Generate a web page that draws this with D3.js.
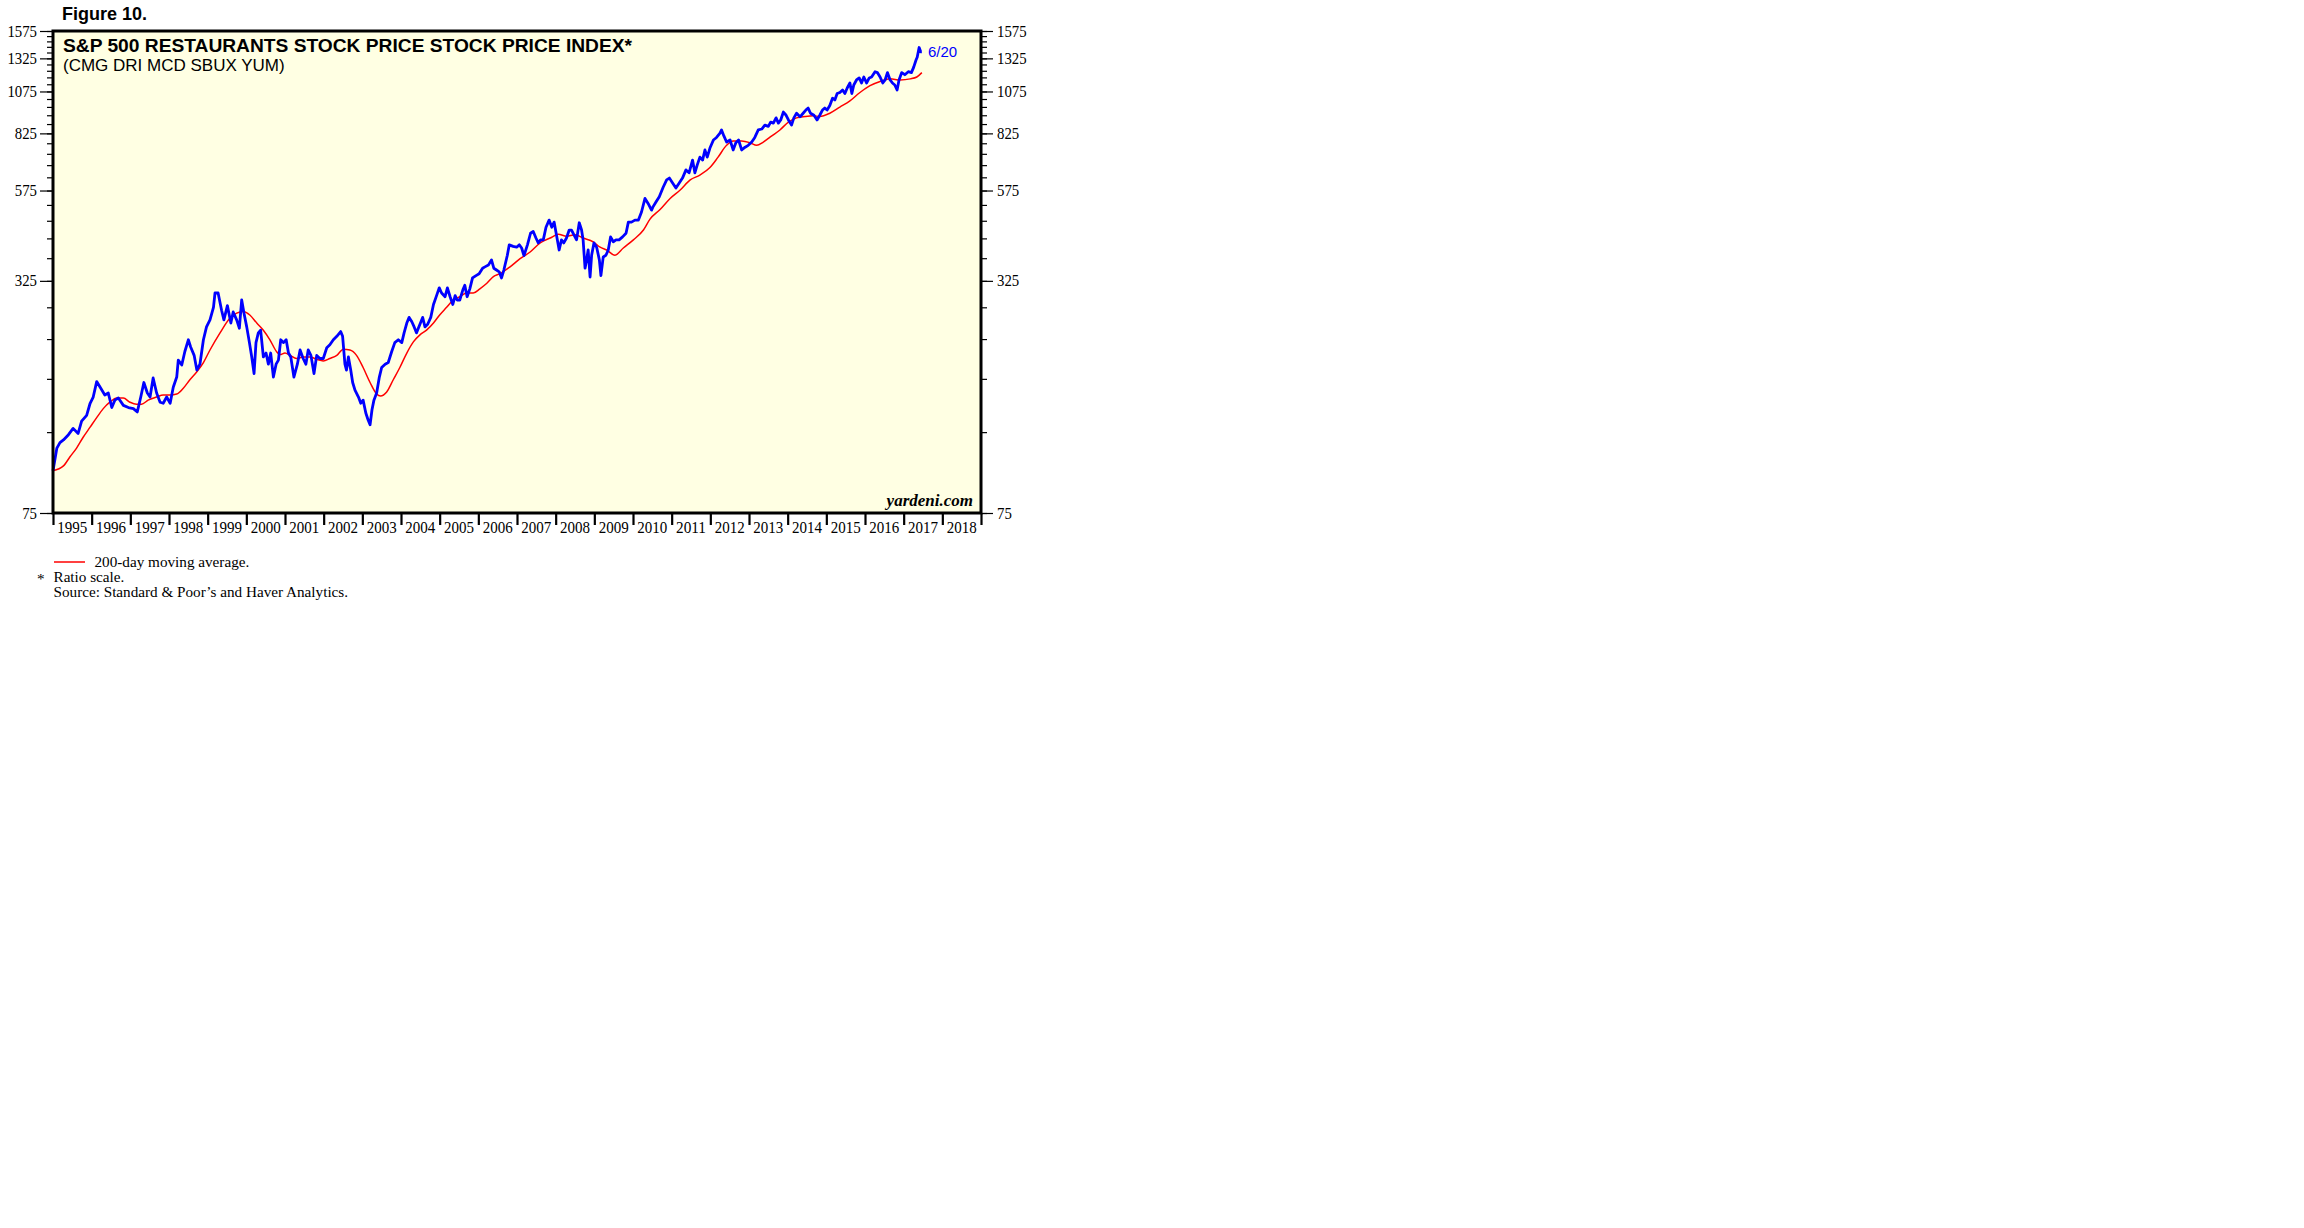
<!DOCTYPE html>
<html>
<head>
  <title>S&amp;P 500 Restaurants</title>
  <meta charset="UTF-8">
  <script src="https://cdn.jsdelivr.net/npm/d3@7"></script>
  <style>
    body { margin: 0; background: #fff; }
    .serif { font-family: "Liberation Serif", "Times New Roman", serif; }
    .sans { font-family: "Liberation Sans", Arial, sans-serif; }
  </style>
</head>
<body>
  <svg id="chart" width="2304" height="1228"></svg>

  <script>
    // daily index, decimal years
    const priceYears = [
      1995.00, 1995.10, 1995.18, 1995.27, 1995.40, 1995.52, 1995.65, 1995.74, 1995.87, 1995.96,
      1996.04, 1996.13, 1996.22, 1996.34, 1996.43, 1996.52, 1996.60, 1996.69, 1996.82, 1996.95,
      1997.08, 1997.18, 1997.27, 1997.35, 1997.44, 1997.51, 1997.59, 1997.68, 1997.77, 1997.85,
      1997.94, 1998.03, 1998.11, 1998.20, 1998.24, 1998.33, 1998.41, 1998.50, 1998.56, 1998.65,
      1998.72, 1998.80, 1998.89, 1998.97, 1999.06, 1999.15, 1999.19, 1999.27, 1999.36, 1999.42,
      1999.51, 1999.60, 1999.66, 1999.75, 1999.82, 1999.88, 1999.94, 2000.01, 2000.08, 2000.14,
      2000.20, 2000.25, 2000.31, 2000.37, 2000.44, 2000.51, 2000.57, 2000.63, 2000.70, 2000.77,
      2000.83, 2000.89, 2000.96, 2001.03, 2001.09, 2001.15, 2001.23, 2001.32, 2001.39, 2001.47,
      2001.54, 2001.60, 2001.67, 2001.75, 2001.82, 2001.90, 2001.99, 2002.08, 2002.16, 2002.25,
      2002.34, 2002.44, 2002.49, 2002.55, 2002.59, 2002.64, 2002.70, 2002.75, 2002.81, 2002.90,
      2002.96, 2003.02, 2003.09, 2003.15, 2003.20, 2003.25, 2003.30, 2003.37, 2003.44, 2003.50,
      2003.59, 2003.67, 2003.76, 2003.84, 2003.93, 2004.02, 2004.08, 2004.15, 2004.21, 2004.28,
      2004.34, 2004.40, 2004.49, 2004.56, 2004.62, 2004.69, 2004.77, 2004.84, 2004.92, 2004.99,
      2005.05, 2005.14, 2005.20, 2005.27, 2005.34, 2005.40, 2005.45, 2005.52, 2005.60, 2005.65,
      2005.71, 2005.78, 2005.85, 2005.94, 2006.02, 2006.11, 2006.17, 2006.26, 2006.34, 2006.40,
      2006.47, 2006.54, 2006.60, 2006.66, 2006.75, 2006.80, 2006.90, 2006.99, 2007.06, 2007.12,
      2007.18, 2007.27, 2007.35, 2007.42, 2007.49, 2007.55, 2007.61, 2007.68, 2007.75, 2007.83,
      2007.90, 2007.96, 2008.03, 2008.09, 2008.15, 2008.21, 2008.28, 2008.35, 2008.41, 2008.47,
      2008.54, 2008.61, 2008.67, 2008.71, 2008.76, 2008.80, 2008.84, 2008.89, 2008.93, 2008.99,
      2009.06, 2009.13, 2009.17, 2009.23, 2009.30, 2009.36, 2009.42, 2009.49, 2009.56, 2009.64,
      2009.73, 2009.82, 2009.88, 2009.96, 2010.05, 2010.14, 2010.22, 2010.31, 2010.39, 2010.48,
      2010.51, 2010.59, 2010.68, 2010.78, 2010.87, 2010.94, 2011.02, 2011.11, 2011.20, 2011.28,
      2011.37, 2011.45, 2011.54, 2011.60, 2011.66, 2011.73, 2011.80, 2011.86, 2011.92, 2011.99,
      2012.08, 2012.16, 2012.25, 2012.29, 2012.35, 2012.42, 2012.51, 2012.59, 2012.66, 2012.73,
      2012.81, 2012.90, 2012.98, 2013.07, 2013.15, 2013.24, 2013.33, 2013.41, 2013.50, 2013.56,
      2013.63, 2013.70, 2013.76, 2013.82, 2013.89, 2013.96, 2014.02, 2014.10, 2014.16, 2014.23,
      2014.32, 2014.40, 2014.47, 2014.53, 2014.59, 2014.68, 2014.76, 2014.83, 2014.90, 2014.96,
      2015.02, 2015.09, 2015.16, 2015.22, 2015.28, 2015.35, 2015.42, 2015.48, 2015.54, 2015.61,
      2015.66, 2015.71, 2015.78, 2015.85, 2015.91, 2015.97, 2016.04, 2016.11, 2016.17, 2016.26,
      2016.32, 2016.39, 2016.46, 2016.52, 2016.58, 2016.65, 2016.71, 2016.77, 2016.83, 2016.88,
      2016.95, 2017.03, 2017.12, 2017.20, 2017.26, 2017.32, 2017.35, 2017.40, 2017.44, 2017.47
    ];
    const priceValues = [
      98, 113, 117, 119, 123, 128, 124, 134, 139, 150,
      156, 172, 166, 158, 160, 146, 153, 155, 148, 146,
      145, 142, 156, 171, 160, 156, 176, 160, 151, 150,
      156, 150, 166, 177, 197, 191, 208, 224, 214, 203,
      185, 192, 224, 243, 254, 275, 301, 301, 270, 254,
      278, 249, 267, 254, 241, 288, 265, 243, 220, 201,
      181, 220, 234, 238, 201, 206, 192, 206, 177, 192,
      197, 224, 220, 224, 206, 201, 177, 192, 210, 199,
      192, 210, 203, 181, 203, 199, 199, 213, 217, 224,
      229, 236, 229, 192, 185, 201, 185, 171, 163, 156,
      150, 153, 141, 135, 131, 144, 153, 160, 177, 188,
      192, 194, 208, 220, 224, 220, 234, 249, 258, 251,
      243, 234, 247, 258, 243, 247, 258, 280, 296, 311,
      301, 294, 311, 294, 280, 296, 288, 288, 307, 316,
      294, 309, 331, 336, 340, 352, 355, 359, 371, 352,
      348, 344, 331, 348, 382, 408, 404, 402, 408, 400,
      381, 408, 439, 444, 426, 413, 421, 421, 456, 477,
      456, 471, 429, 395, 421, 413, 426, 448, 448, 435,
      421, 469, 448, 421, 352, 371, 395, 333, 382, 413,
      402, 371, 336, 378, 382, 395, 429, 416, 421, 421,
      429, 439, 471, 471, 477, 477, 502, 547, 530, 508,
      517, 534, 553, 587, 615, 622, 604, 584, 604, 622,
      655, 643, 697, 643, 675, 710, 697, 743, 710, 752,
      791, 804, 826, 843, 812, 781, 791, 743, 778, 791,
      743, 756, 765, 781, 804, 843, 848, 869, 862, 886,
      880, 910, 880, 898, 944, 925, 898, 869, 910, 937,
      916, 937, 956, 968, 937, 925, 898, 925, 956, 968,
      956, 984, 1030, 1019, 1061, 1068, 1085, 1061, 1099, 1134,
      1061, 1120, 1156, 1171, 1134, 1178, 1134, 1171, 1178, 1218,
      1211, 1178, 1134, 1156, 1211, 1156, 1134, 1120, 1085, 1156,
      1211, 1195, 1218, 1211, 1254, 1311, 1335, 1419, 1381, 1381
    ];

    // 200-day moving average
    const maYears = [
      1995.00, 1995.27, 1995.44, 1995.61, 1995.78, 1995.96, 1996.13, 1996.30, 1996.47, 1996.65,
      1996.82, 1996.99, 1997.16, 1997.29, 1997.46, 1997.68, 1997.85, 1998.03, 1998.20, 1998.37,
      1998.54, 1998.72, 1998.89, 1999.06, 1999.32, 1999.58, 1999.75, 1999.92, 2000.09, 2000.27,
      2000.44, 2000.61, 2000.78, 2000.87, 2001.00, 2001.13, 2001.30, 2001.47, 2001.65, 2001.82,
      2001.99, 2002.16, 2002.34, 2002.51, 2002.68, 2002.85, 2003.02, 2003.20, 2003.37, 2003.47,
      2003.63, 2003.80, 2003.97, 2004.15, 2004.32, 2004.49, 2004.66, 2004.84, 2005.00, 2005.18,
      2005.35, 2005.52, 2005.70, 2005.87, 2006.04, 2006.22, 2006.39, 2006.56, 2006.82, 2007.08,
      2007.34, 2007.60, 2007.86, 2008.07, 2008.28, 2008.50, 2008.71, 2008.97, 2009.15, 2009.32,
      2009.53, 2009.75, 2010.01, 2010.27, 2010.44, 2010.70, 2010.96, 2011.22, 2011.48, 2011.73,
      2011.99, 2012.20, 2012.42, 2012.59, 2012.81, 2013.02, 2013.20, 2013.37, 2013.59, 2013.80,
      2014.02, 2014.23, 2014.45, 2014.66, 2014.83, 2015.09, 2015.35, 2015.61, 2015.87, 2016.13,
      2016.39, 2016.65, 2016.91, 2017.17, 2017.34, 2017.47
    ];
    const maValues = [
      98, 101, 107, 113, 121, 129, 137, 145, 151, 155,
      155, 151, 149, 149, 153, 156, 158, 158, 159, 165,
      174, 183, 194, 210, 234, 257, 265, 268, 262, 249,
      238, 224, 208, 204, 206, 203, 199, 201, 201, 198,
      196, 199, 203, 211, 210, 203, 188, 171, 159, 157,
      161, 174, 188, 206, 221, 231, 238, 249, 262, 275,
      288, 294, 301, 301, 309, 320, 334, 340, 355, 374,
      390, 413, 426, 436, 431, 435, 426, 416, 402, 395,
      382, 400, 421, 448, 480, 510, 547, 577, 615, 634,
      665, 710, 765, 786, 786, 778, 765, 781, 812, 843,
      886, 910, 918, 922, 918, 937, 974, 1013, 1068, 1115,
      1145, 1164, 1156, 1164, 1178, 1211
    ];

    const yearLabels = ['1995', '1996', '1997', '1998', '1999', '2000', '2001', '2002', '2003', '2004', '2005', '2006',
      '2007', '2008', '2009', '2010', '2011', '2012', '2013', '2014', '2015', '2016', '2017', '2018'];
    const yLabelValues = [75, 325, 575, 825, 1075, 1325, 1575];
    const yMinorValues = d3.range(75, 1576, 50);

    const plotLeft = 53, plotRight = 981, plotTop = 31, plotBottom = 513;
    const svg = d3.select('#chart');

    const x = d3.scaleLinear().domain([1995, 2019]).range([plotLeft, plotRight]);
    const y = d3.scaleLog().domain([75, 1575]).range([plotBottom, plotTop]);

    svg.append('rect').attr('x', plotLeft).attr('y', plotTop)
      .attr('width', plotRight - plotLeft).attr('height', plotBottom - plotTop)
      .attr('fill', '#ffffe3');

    // y axes, both sides
    function yAxis(axis, xpos)
    {
      const g = svg.append('g').attr('transform', `translate(${xpos},0)`).call(axis);
      g.select('.domain').remove();
      g.selectAll('line').attr('stroke', '#000').attr('stroke-width', 1.2);
      return g;
    }
    yAxis(d3.axisLeft(y).tickValues(yMinorValues).tickSize(6).tickFormat(''), plotLeft);
    yAxis(d3.axisRight(y).tickValues(yMinorValues).tickSize(6).tickFormat(''), plotRight);
    const yl = yAxis(d3.axisLeft(y).tickValues(yLabelValues).tickSize(13).tickPadding(3).tickFormat(d => d), plotLeft);
    const yr = yAxis(d3.axisRight(y).tickValues(yLabelValues).tickSize(12).tickPadding(4).tickFormat(d => d), plotRight);
    [yl, yr].forEach(g => g.selectAll('text')
      .attr('class', 'serif').attr('font-size', 16).attr('fill', '#000')
      .attr('textLength', d => String(d).length * 7.4).attr('lengthAdjust', 'spacingAndGlyphs'));

    // x axis: ticks on year boundaries, labels in between
    const xg = svg.append('g').attr('transform', `translate(0,${plotBottom})`)
      .call(d3.axisBottom(x).tickValues(d3.range(1995, 2020)).tickSize(12).tickFormat(''));
    xg.select('.domain').remove();
    xg.selectAll('line').attr('stroke', '#000').attr('stroke-width', 2.2);
    svg.append('g').selectAll('text').data(yearLabels).enter().append('text')
      .attr('class', 'serif').attr('font-size', 16)
      .attr('x', d => x(+d + 0.5)).attr('y', 533).attr('text-anchor', 'middle')
      .attr('textLength', 30).attr('lengthAdjust', 'spacingAndGlyphs')
      .text(d => d);

    // series
    const maLine = d3.line().x(d => x(d[0])).y(d => y(d[1])).curve(d3.curveMonotoneX);
    const priceLine = d3.line().x(d => x(d[0])).y(d => y(d[1]));
    svg.append('path').datum(d3.zip(maYears, maValues)).attr('d', maLine)
      .attr('fill', 'none').attr('stroke', '#ff0000').attr('stroke-width', 1.5);
    svg.append('path').datum(d3.zip(priceYears, priceValues)).attr('d', priceLine)
      .attr('fill', 'none').attr('stroke', '#0000ff').attr('stroke-width', 2.8).attr('stroke-linejoin', 'round');

    // frame
    svg.append('rect').attr('x', plotLeft).attr('y', plotTop)
      .attr('width', plotRight - plotLeft).attr('height', plotBottom - plotTop)
      .attr('fill', 'none').attr('stroke', '#000').attr('stroke-width', 3);

    // texts
    svg.append('text').attr('class', 'sans').attr('x', 62).attr('y', 20)
      .attr('font-size', 18).attr('font-weight', 'bold').text('Figure 10.');
    svg.append('text').attr('class', 'sans').attr('x', 63).attr('y', 52)
      .attr('font-size', 19.2).attr('font-weight', 'bold').text('S&P 500 RESTAURANTS STOCK PRICE STOCK PRICE INDEX*');
    svg.append('text').attr('class', 'sans').attr('x', 63).attr('y', 71)
      .attr('font-size', 17).text('(CMG DRI MCD SBUX YUM)');
    svg.append('text').attr('class', 'sans').attr('x', 928).attr('y', 57)
      .attr('font-size', 15).attr('fill', '#0000ff').text('6/20');
    svg.append('text').attr('class', 'serif').attr('x', 973).attr('y', 506).attr('text-anchor', 'end')
      .attr('font-size', 17).attr('font-weight', 'bold').attr('font-style', 'italic').text('yardeni.com');

    // footnotes
    svg.append('line').attr('x1', 54).attr('x2', 85).attr('y1', 562).attr('y2', 562)
      .attr('stroke', '#ff0000').attr('stroke-width', 1.5);
    const notes = [
      {x: 94.5, y: 567, t: '200-day moving average.'},
      {x: 37, y: 584, t: '*'},
      {x: 53.5, y: 582, t: 'Ratio scale.'},
      {x: 53.5, y: 597, t: 'Source: Standard & Poor\u2019s and Haver Analytics.'}
    ];
    svg.append('g').selectAll('text').data(notes).enter().append('text')
      .attr('class', 'serif').attr('font-size', 15.2)
      .attr('x', d => d.x).attr('y', d => d.y).text(d => d.t);
  </script>
</body>
</html>
